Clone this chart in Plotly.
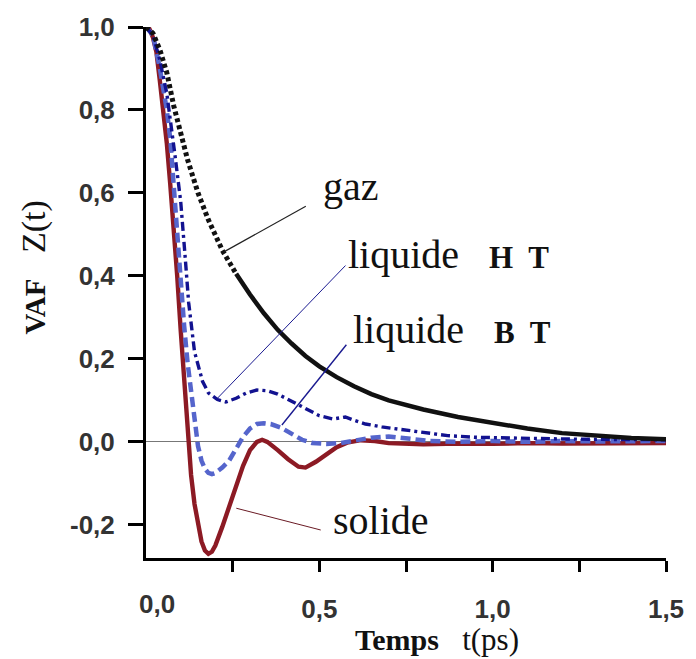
import plotly.graph_objects as go

# ---------------- data ----------------
t_gaz = [0.0, 0.02, 0.04, 0.06, 0.08, 0.10, 0.12, 0.15, 0.18, 0.22, 0.26, 0.30, 0.34, 0.38,
         0.42, 0.46, 0.50, 0.55, 0.60, 0.65, 0.70, 0.80, 0.90, 1.00, 1.10, 1.20, 1.30, 1.40, 1.50]
v_gaz = [1.0, 0.985, 0.945, 0.89, 0.81, 0.74, 0.68, 0.60, 0.535, 0.462, 0.405, 0.355, 0.31, 0.27,
         0.237, 0.207, 0.182, 0.156, 0.134, 0.115, 0.100, 0.078, 0.060, 0.045, 0.032, 0.021, 0.014, 0.009, 0.006]

t_sol = [0.0, 0.01, 0.02, 0.03, 0.04, 0.05, 0.06, 0.07, 0.08, 0.09, 0.10, 0.11, 0.12, 0.13, 0.14,
         0.15, 0.16, 0.17, 0.18, 0.19, 0.20, 0.22, 0.24, 0.26, 0.28, 0.30, 0.32, 0.335, 0.35, 0.38,
         0.41, 0.44, 0.46, 0.49, 0.52, 0.55, 0.58, 0.62, 0.66, 0.70, 0.80, 0.90, 1.00, 1.10, 1.20,
         1.30, 1.40, 1.50]
v_sol = [1.0, 0.995, 0.975, 0.94, 0.87, 0.80, 0.72, 0.62, 0.52, 0.40, 0.27, 0.14, 0.01, -0.08, -0.15,
         -0.20, -0.24, -0.262, -0.27, -0.265, -0.25, -0.205, -0.155, -0.105, -0.058, -0.02, 0.0, 0.005, 0.0, -0.02,
         -0.042, -0.06, -0.062, -0.048, -0.03, -0.013, -0.002, 0.004, 0.002, -0.003, -0.006, -0.004, -0.005, -0.003, -0.004,
         -0.003, -0.004, -0.003]

t_bt = [0.0, 0.02, 0.04, 0.06, 0.07, 0.08, 0.09, 0.10, 0.11, 0.12, 0.13, 0.14, 0.15, 0.16, 0.17,
        0.18, 0.19, 0.20, 0.22, 0.24, 0.26, 0.28, 0.30, 0.32, 0.34, 0.36, 0.39, 0.42, 0.45, 0.48,
        0.52, 0.56, 0.60, 0.65, 0.70, 0.75, 0.82, 0.90, 1.00, 1.10, 1.20, 1.30, 1.40, 1.50]
v_bt = [1.0, 0.98, 0.90, 0.80, 0.73, 0.62, 0.48, 0.37, 0.28, 0.19, 0.12, 0.05, -0.01, -0.045, -0.065,
        -0.075, -0.078, -0.075, -0.062, -0.045, -0.015, 0.012, 0.032, 0.043, 0.045, 0.043, 0.034, 0.02, 0.005, -0.003,
        -0.005, -0.003, 0.003, 0.01, 0.013, 0.008, 0.002, 0.0, 0.002, 0.0, 0.002, 0.001, 0.002, 0.002]

t_ht = [0.0, 0.02, 0.04, 0.06, 0.083, 0.10, 0.112, 0.123, 0.14, 0.163, 0.18, 0.206, 0.23, 0.26,
        0.29, 0.32, 0.35, 0.38, 0.42, 0.46, 0.50, 0.54, 0.575, 0.60, 0.633, 0.68, 0.73, 0.80,
        0.87, 0.95, 1.00, 1.10, 1.20, 1.30, 1.40, 1.50]
v_ht = [1.0, 0.98, 0.92, 0.84, 0.695, 0.58, 0.456, 0.336, 0.217, 0.146, 0.118, 0.102, 0.096, 0.105,
        0.118, 0.125, 0.123, 0.115, 0.098, 0.08, 0.063, 0.055, 0.06, 0.052, 0.043, 0.036, 0.031, 0.022,
        0.015, 0.011, 0.01, 0.008, 0.007, 0.006, 0.005, 0.005]

x_tickvals = [0.25, 0.5, 0.75, 1.0, 1.25, 1.5]
x_ticktext = ["", "0,5", "", "1,0", "", "1,5"]
y_tickvals = [-0.2, 0.0, 0.2, 0.4, 0.6, 0.8, 1.0]
y_ticktext = ["-0,2", "0,0", "0,2", "0,4", "0,6", "0,8", "1,0"]

# ---------------- figure ----------------
fig = go.Figure()

fig.add_trace(go.Scatter(x=t_sol, y=v_sol, mode="lines",
                         line=dict(color="#8c1a24", width=4.4), hoverinfo="skip"))
fig.add_trace(go.Scatter(x=t_bt, y=v_bt, mode="lines",
                         line=dict(color="#5565cc", width=4.5, dash="10px,5px"), hoverinfo="skip"))
fig.add_trace(go.Scatter(x=t_ht, y=v_ht, mode="lines",
                         line=dict(color="#121290", width=3.4, dash="9px,4px,3px,4px"), hoverinfo="skip"))
split = t_gaz.index(0.26)
fig.add_trace(go.Scatter(x=t_gaz[:split + 1], y=v_gaz[:split + 1], mode="lines",
                         line=dict(color="#111111", width=5, dash="4px,3px"), hoverinfo="skip"))
fig.add_trace(go.Scatter(x=t_gaz[split:], y=v_gaz[split:], mode="lines",
                         line=dict(color="#111111", width=4.5), hoverinfo="skip"))

# leader lines
leaders = [
    ((0.226, 0.4585), (0.461, 0.568), "#222222", 1.2),
    ((0.206, 0.105), (0.5755, 0.425), "#1a1a90", 1.0),
    ((0.392, 0.0406), (0.578, 0.234), "#1a1a90", 1.4),
    ((0.2605, -0.160), (0.504, -0.2125), "#6a1a24", 1.0),
]
for (x0, y0), (x1, y1), col, w in leaders:
    fig.add_shape(type="line", xref="x", yref="y", x0=x0, y0=y0, x1=x1, y1=y1,
                  line=dict(color=col, width=w))

serif = "Liberation Serif, Times New Roman, serif"
labels = [
    (0.504, 0.616, "gaz"),
    (0.578, 0.452, "liquide\u00a0\u00a0 <b><span style='font-size:31px'>H\u00a0 T</span></b>"),
    (0.5926, 0.272, "liquide\u00a0\u00a0 <b><span style='font-size:31px'>B\u00a0 T</span></b>"),
    (0.5325, -0.189, "solide"),
]
for x, y, txt in labels:
    fig.add_annotation(x=x, y=y, xref="x", yref="y", text=txt, showarrow=False,
                       xanchor="left", yanchor="middle",
                       font=dict(family=serif, size=40, color="#111111"))

# axis titles
fig.add_annotation(x=-0.216, y=0.5466, xref="paper", yref="paper", textangle=-90,
                   text="<b><span style='font-size:29px'>VAF</span></b>\u00a0\u00a0 Z(t)",
                   showarrow=False, xanchor="center", yanchor="middle",
                   font=dict(family=serif, size=34, color="#111111"))
fig.add_annotation(x=0.559, y=-0.154, xref="paper", yref="paper",
                   text="<b><span style='font-size:30px'>Temps</span></b>\u00a0\u00a0 t(ps)",
                   showarrow=False, xanchor="center", yanchor="middle",
                   font=dict(family=serif, size=31, color="#111111"))

fig.update_layout(
    width=696, height=659,
    margin=dict(l=146, r=26, t=22, b=101),
    paper_bgcolor="white", plot_bgcolor="white",
    showlegend=False,
    separators=",.",
)
tick_font = dict(family="Liberation Sans, Arial, sans-serif", size=26,
                 color="#333333", weight="bold")
fig.update_xaxes(range=[0, 1.5], showgrid=False, zeroline=False,
                 showline=True, linecolor="black", linewidth=3,
                 ticks="outside", ticklen=11, tickwidth=3, tickcolor="black",
                 tickvals=x_tickvals, ticktext=x_ticktext, ticklabelstandoff=15,
                 tickfont=tick_font)
fig.update_yaxes(range=[-0.28, 1.0], showgrid=False,
                 zeroline=True, zerolinecolor="#777777", zerolinewidth=1,
                 showline=True, linecolor="black", linewidth=3,
                 ticks="outside", ticklen=15, tickwidth=3, tickcolor="black",
                 tickvals=y_tickvals, ticktext=y_ticktext, ticklabelstandoff=8,
                 tickfont=tick_font)

# "0,0" label on the x axis at the origin
fig.add_annotation(x=0.0, y=-0.28, xref="x", yref="y", text="0,0", showarrow=False,
                   xanchor="center", yanchor="top", xshift=11, yshift=-29,
                   font=tick_font)

fig.write_html("out.html", config={"displayModeBar": False})

# remove the default page margin so the figure sits at the window's top-left corner
with open("out.html", "r", encoding="utf-8") as f:
    html = f.read()
html = html.replace("<head>", "<head><style>html,body{margin:0;padding:0;overflow:hidden;}</style>", 1)
with open("out.html", "w", encoding="utf-8") as f:
    f.write(html)
